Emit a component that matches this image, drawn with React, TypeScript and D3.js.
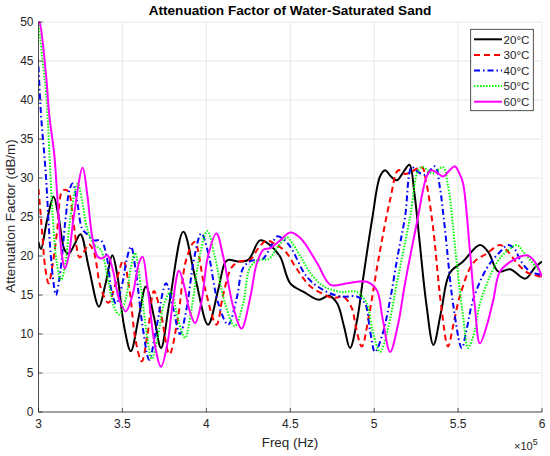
import React from "react";
import * as d3 from "d3";

const xTicks = [3, 3.5, 4, 4.5, 5, 5.5, 6];
const yTicks = [0, 5, 10, 15, 20, 25, 30, 35, 40, 45, 50];
const seriesNames = ["20°C", "30°C", "40°C", "50°C", "60°C"];

// freq (x1e5 Hz), attenuation (dB/m)
const f20 = [3.0,3.015,3.05,3.09,3.12,3.155,3.18,3.215,3.25,3.3,3.36,3.4,3.44,3.47,3.51,3.55,3.6,3.64,3.69,3.73,3.78,3.863,3.933,4.01,4.07,4.11,4.13,4.19,4.25,4.32,4.38,4.44,4.5,4.58,4.67,4.73,4.78,4.82,4.856,4.9,4.93,4.99,5.035,5.065,5.1,5.135,5.175,5.21,5.24,5.27,5.31,5.353,5.4,5.45,5.53,5.63,5.68,5.74,5.81,5.9,5.96,6.0];
const a20 = [21.8,20.9,24.5,27.6,25.0,20.8,20.3,21.5,22.8,18.5,13.5,16.5,20.1,17.5,11.0,7.8,12.5,16.1,12.0,8.2,14.0,23.1,17.3,11.2,15.6,19.1,19.5,19.3,19.5,22.0,21.4,19.9,16.5,15.4,14.4,14.9,13.9,11.0,8.2,12.0,16.5,25.0,30.2,31.0,30.2,29.7,30.8,31.7,28.0,22.0,14.0,8.6,13.0,17.8,19.3,21.4,20.5,18.0,18.3,17.1,18.6,19.3];

const f30 = [3.0,3.02,3.04,3.06,3.085,3.11,3.14,3.16,3.18,3.21,3.245,3.27,3.3,3.33,3.37,3.416,3.46,3.505,3.54,3.58,3.615,3.65,3.688,3.73,3.78,3.83,3.88,3.93,3.99,4.06,4.1,4.15,4.2,4.26,4.31,4.36,4.41,4.47,4.54,4.62,4.7,4.757,4.816,4.867,4.89,4.926,4.97,5.025,5.095,5.144,5.184,5.23,5.284,5.31,5.35,5.4,5.44,5.47,5.51,5.59,5.67,5.75,5.8,5.85,5.91,5.95,6.0];
const a30 = [28.6,23.5,18.5,16.5,19.0,23.0,28.3,28.5,28.2,24.0,19.8,20.5,21.5,20.5,16.0,14.0,16.5,19.4,16.0,9.0,6.5,10.0,15.5,12.5,7.4,12.0,19.5,21.8,16.0,11.2,15.0,18.5,19.3,19.5,21.0,22.0,21.5,20.6,18.3,16.1,15.1,14.6,14.8,13.3,11.0,8.4,12.5,19.5,27.2,31.0,30.5,30.9,31.4,29.5,23.8,13.5,8.4,11.0,14.8,19.1,20.3,21.4,20.5,19.1,17.9,17.6,17.3];

const f40 = [3.0,3.015,3.035,3.045,3.07,3.09,3.104,3.13,3.16,3.185,3.204,3.23,3.26,3.29,3.33,3.372,3.41,3.435,3.462,3.5,3.525,3.551,3.58,3.62,3.66,3.7,3.76,3.8,3.843,3.88,3.93,3.97,4.01,4.07,4.13,4.18,4.22,4.27,4.33,4.38,4.42,4.45,4.5,4.6,4.7,4.8,4.896,4.946,4.975,5.005,5.05,5.095,5.14,5.184,5.224,5.26,5.303,5.363,5.39,5.42,5.47,5.522,5.55,5.59,5.67,5.74,5.8,5.84,5.87,5.93,6.0];
const a40 = [44.3,38.1,32.9,30.0,21.0,16.5,15.0,18.0,24.5,28.5,29.3,27.0,23.5,22.8,22.0,22.0,19.5,15.5,13.9,16.5,19.5,21.2,18.0,11.0,6.7,10.5,16.5,13.5,10.0,13.0,20.0,22.9,20.5,14.0,11.2,14.5,18.5,19.4,19.5,21.0,22.5,22.3,21.2,17.3,15.6,14.8,14.8,13.9,10.5,7.7,10.0,14.4,20.0,25.0,31.4,30.8,30.4,31.5,29.0,23.8,13.9,8.2,10.5,14.4,18.4,20.3,21.4,20.8,19.5,18.0,17.6];

const f50 = [3.0,3.01,3.03,3.049,3.064,3.085,3.11,3.134,3.16,3.19,3.234,3.26,3.29,3.33,3.37,3.41,3.45,3.48,3.52,3.55,3.575,3.61,3.645,3.675,3.71,3.75,3.79,3.83,3.873,3.91,3.96,4.006,4.05,4.11,4.17,4.22,4.26,4.31,4.37,4.43,4.48,4.5,4.56,4.62,4.7,4.8,4.896,4.956,4.99,5.035,5.08,5.135,5.214,5.263,5.29,5.35,5.41,5.44,5.49,5.53,5.56,5.6,5.63,5.73,5.8,5.85,5.89,5.93,6.0];
const a50 = [50.0,48.0,44.0,40.0,33.5,25.0,19.0,16.9,19.0,25.0,29.3,27.0,23.5,21.5,20.8,17.5,13.5,12.5,14.5,18.5,20.4,16.0,10.0,6.8,9.5,14.0,15.4,12.0,9.5,13.0,20.0,23.2,20.0,14.0,11.0,14.0,18.5,19.5,19.6,21.3,22.4,22.0,20.0,17.8,16.1,15.4,15.4,13.9,10.5,7.7,10.5,16.5,25.0,31.0,31.4,30.6,31.4,29.0,19.5,12.2,8.2,10.5,13.9,19.1,20.8,21.4,20.5,19.5,17.6];

const f60 = [3.0,3.005,3.045,3.064,3.094,3.12,3.14,3.158,3.18,3.21,3.263,3.29,3.32,3.353,3.38,3.41,3.44,3.48,3.52,3.56,3.6,3.62,3.65,3.69,3.73,3.77,3.8,3.837,3.87,3.9,3.933,3.97,4.01,4.06,4.1,4.16,4.21,4.26,4.3,4.34,4.38,4.44,4.5,4.56,4.66,4.74,4.84,4.956,5.016,5.05,5.095,5.14,5.184,5.254,5.313,5.34,5.38,5.41,5.45,5.48,5.51,5.53,5.57,5.6,5.63,5.67,5.71,5.75,5.83,5.91,5.94,5.97,6.0];
const a60 = [50.0,50.0,43.2,38.1,33.0,25.0,20.0,18.4,20.0,25.0,31.3,28.0,22.5,19.9,19.7,20.1,18.5,14.5,12.9,15.0,19.2,19.9,16.0,9.0,5.8,9.0,14.0,18.1,16.0,13.0,11.4,14.0,20.0,22.9,20.0,13.5,10.7,14.5,19.0,20.8,21.0,22.0,23.0,22.3,19.1,16.3,16.5,16.7,15.6,12.0,7.7,11.0,16.5,24.2,30.2,31.0,30.6,30.2,31.0,31.5,30.5,29.3,20.8,13.5,8.8,11.0,14.4,18.0,19.5,20.1,19.7,18.8,17.3];

const freqs = [f20, f30, f40, f50, f60];
const atts = [a20, a30, a40, a50, a60];
const colors = ["#000000", "#ff0000", "#0000ff", "#00ff00", "#ff00ff"];
const dashes = ["", "6,4", "6,3,1.5,3", "1.5,1.5", ""];

const W = 550, H = 456;
const L = 38.5, R = 542, T = 22, B = 412;
const font = "'Liberation Sans', Arial, Helvetica, sans-serif";
const txt = "#262626";

export default function App() {
  const x = d3.scaleLinear().domain([3, 6]).range([L, R]);
  const y = d3.scaleLinear().domain([0, 50]).range([B, T]);
  const line = d3
    .line<[number, number]>()
    .x((d) => x(d[0]))
    .y((d) => y(d[1]))
    .curve(d3.curveCatmullRom.alpha(0.5));

  const legX = 470.7, legY = 29.3, legW = 62.6, legH = 81.4;

  return (
    <svg
      width={W}
      height={H}
      style={{ position: "absolute", left: 0, top: 0, background: "#fff" }}
      fontFamily={font}
    >
      <rect x={0} y={0} width={W} height={H} fill="#fff" />
      <defs>
        <clipPath id="plotclip">
          <rect x={L} y={T - 1} width={R - L} height={B - T + 1} />
        </clipPath>
      </defs>
      {/* grid */}
      {xTicks.map((t) => (
        <line key={"gx" + t} x1={x(t)} x2={x(t)} y1={T} y2={B} stroke="#dfdfdf" strokeWidth={0.8} />
      ))}
      {yTicks.map((t) => (
        <line key={"gy" + t} x1={L} x2={R} y1={y(t)} y2={y(t)} stroke="#dfdfdf" strokeWidth={0.8} />
      ))}
      {/* series */}
      <g clipPath="url(#plotclip)">
        {freqs.map((fs, i) => (
          <path
            key={"s" + i}
            d={line(fs.map((f, j) => [f, atts[i][j]] as [number, number])) || ""}
            fill="none"
            stroke={colors[i]}
            strokeWidth={2}
            strokeDasharray={dashes[i] || undefined}
            strokeLinejoin="round"
          />
        ))}
      </g>
      {/* axes */}
      <line x1={L} x2={L} y1={T} y2={B} stroke={txt} strokeWidth={0.8} />
      <line x1={L} x2={R} y1={B} y2={B} stroke={txt} strokeWidth={0.8} />
      {xTicks.map((t) => (
        <g key={"xt" + t}>
          <line x1={x(t)} x2={x(t)} y1={B} y2={B - 4} stroke={txt} strokeWidth={0.8} />
          <text x={x(t)} y={428} textAnchor="middle" fontSize={12} fill={txt}>
            {String(t)}
          </text>
        </g>
      ))}
      {yTicks.map((t) => (
        <g key={"yt" + t}>
          <line x1={L} x2={L + 4} y1={y(t)} y2={y(t)} stroke={txt} strokeWidth={0.8} />
          <text x={33.5} y={y(t) + 4.2} textAnchor="end" fontSize={12} fill={txt}>
            {String(t)}
          </text>
        </g>
      ))}
      {/* labels */}
      <text x={290} y={447} textAnchor="middle" fontSize={13.4} fill={txt}>
        Freq (Hz)
      </text>
      <text
        transform={`translate(14.5, 216) rotate(-90)`}
        textAnchor="middle"
        fontSize={13.4}
        fill={txt}
      >
        Attenuation Factor (dB/m)
      </text>
      <text x={514} y={450} fontSize={11} fill={txt}>
        ×10
        <tspan dy={-5} fontSize={9}>5</tspan>
      </text>
      <text x={290} y={15} textAnchor="middle" fontSize={13.6} fontWeight="bold" fill="#000">
        Attenuation Factor of Water-Saturated Sand
      </text>
      {/* legend */}
      <rect x={legX} y={legY} width={legW} height={legH} fill="#fff" stroke={txt} strokeWidth={0.8} />
      {seriesNames.map((n, i) => {
        const cy = legY + 10 + i * 15.6;
        return (
          <g key={"lg" + i}>
            <line
              x1={474}
              x2={502}
              y1={cy}
              y2={cy}
              stroke={colors[i]}
              strokeWidth={2}
              strokeDasharray={dashes[i] || undefined}
            />
            <text x={503.5} y={cy + 4.2} fontSize={11.6} fill={txt}>
              {n}
            </text>
          </g>
        );
      })}
    </svg>
  );
}
